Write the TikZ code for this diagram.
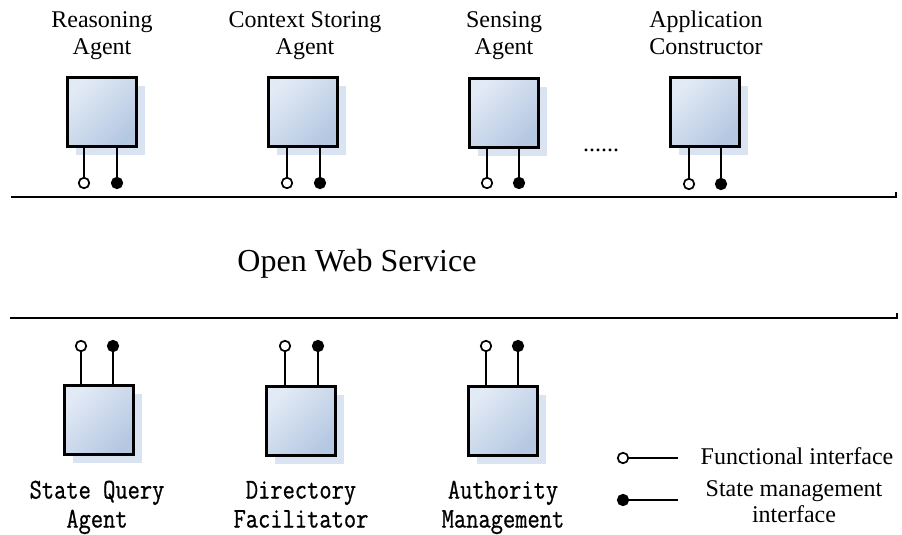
\documentclass[tikz,border=0pt]{standalone}
\usepackage{fontspec}
\setmainfont{Liberation Serif}
\newfontfamily\monolab[FakeBold=0.8]{Latin Modern Mono}
\usetikzlibrary{shadows,calc}
\definecolor{boxlight}{HTML}{E2EAF5}
\definecolor{boxdark}{HTML}{B5C8E2}
\definecolor{shadowblue}{HTML}{DAE3F1}
\newcommand\twoline[2]{\begin{tabular}{@{}c@{}}#1\\#2\end{tabular}}
\newcommand\monolabel[2]{\scalebox{1}[1.2]{\fontsize{23.8}{24.2}\selectfont\monolab\twoline{#1}{#2}}}
\begin{document}
\begin{tikzpicture}[x=1pt,y=-1pt,
  agentbox/.style={draw=black, line width=3pt, minimum size=69pt, inner sep=0pt,
    top color=boxlight, bottom color=boxdark, shading angle=45,
    general shadow={fill=shadowblue, shadow xshift=8pt, shadow yshift=-8pt}},
  fcirc/.style={circle, draw=black, line width=1.7pt, fill=white, minimum size=10.5pt, inner sep=0pt},
  scirc/.style={circle, draw=black, line width=1.7pt, fill=black, minimum size=10.5pt, inner sep=0pt},
  leg/.style={line width=1.8pt},
  bus/.style={line width=2pt},
  toplabel/.style={anchor=north, inner sep=0pt, font=\fontsize{24}{27}\selectfont},
  monolbl/.style={anchor=north, inner sep=0pt},
  legtext/.style={inner sep=0pt, font=\fontsize{24}{26}\selectfont}
]
\useasboundingbox (0,0) rectangle (902,535);

% top agents
\node[agentbox] (t1) at (102,112) {};
\node[agentbox] (t2) at (303,112) {};
\node[agentbox] (t3) at (504,113) {};
\node[agentbox] (t4) at (705,112) {};

\node[toplabel] (l1) at (102,8) {\twoline{Reasoning}{Agent}};
\node[toplabel] (l2) at (305,8) {\twoline{Context Storing}{Agent}};
\node[toplabel] (l3) at (504,8) {\twoline{Sensing}{Agent}};
\node[toplabel] (l4) at (706,8) {\twoline{Application}{Constructor}};

\node[anchor=base, inner sep=0pt, font=\fontsize{24}{28}\selectfont] (dots) at (601,151) {......};

\node[fcirc] (t1f) at (84,183) {};  \node[scirc] (t1s) at (117,183) {};
\node[fcirc] (t2f) at (287,183) {}; \node[scirc] (t2s) at (320,183) {};
\node[fcirc] (t3f) at (487,183) {}; \node[scirc] (t3s) at (519,183) {};
\node[fcirc] (t4f) at (689,184) {}; \node[scirc] (t4s) at (721,184) {};
\foreach \b in {t1,t2,t3,t4}{
  \draw[leg] (\b f) -- (\b f |- \b.south);
  \draw[leg] (\b s) -- (\b s |- \b.south);
}

% buses
\coordinate (tba) at (11,197);
\coordinate (tbb) at (896,197);
\coordinate (tbc) at (896,192);
\draw[bus] (tba) -- (tbb) -- (tbc);
\coordinate (bba) at (10,318);
\coordinate (bbb) at (897,318);
\coordinate (bbc) at (897,313);
\draw[bus] (bba) -- (bbb) -- (bbc);

\node[anchor=base, inner sep=0pt, font=\fontsize{32}{36}\selectfont] (ows) at (357,271) {Open Web Service};

% bottom agents
\node[agentbox] (b1) at (99,420) {};
\node[agentbox] (b2) at (301,421) {};
\node[agentbox] (b3) at (503,421) {};

\node[fcirc] (b1f) at (81,346) {};  \node[scirc] (b1s) at (113,346) {};
\node[fcirc] (b2f) at (285,346) {}; \node[scirc] (b2s) at (318,346) {};
\node[fcirc] (b3f) at (486,346) {}; \node[scirc] (b3s) at (518,346) {};
\foreach \b in {b1,b2,b3}{
  \draw[leg] (\b f) -- (\b f |- \b.north);
  \draw[leg] (\b s) -- (\b s |- \b.north);
}

\node[monolbl] (m1) at (97,478) {\monolabel{State Query}{Agent}};
\node[monolbl] (m2) at (301,478) {\monolabel{Directory}{Facilitator}};
\node[monolbl] (m3) at (503,478) {\monolabel{Authority}{Management}};

% legend
\node[fcirc] (lf) at (623,458) {};
\coordinate (lfe) at (678,458);
\draw[leg] (lf) -- (lfe);
\node[scirc] (ls) at (623,500) {};
\coordinate (lse) at (678,500);
\draw[leg] (ls) -- (lse);
\node[legtext, anchor=base] (lft) at (797,464) {Functional interface};
\node[legtext, anchor=north] (lst) at (794,478) {\twoline{State management}{interface}};
\end{tikzpicture}
\end{document}
